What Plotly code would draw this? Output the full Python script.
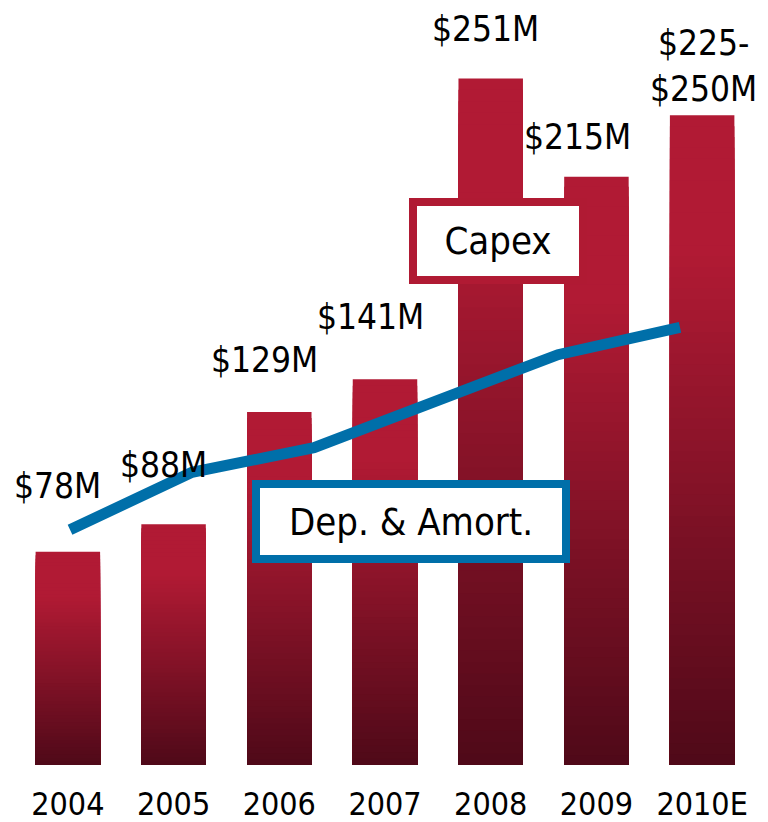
import plotly.graph_objects as go

# ---- data ----
years = ["2004", "2005", "2006", "2007", "2008", "2009", "2010E"]
capex = [78, 88, 129, 141, 251, 215, 237.5]
capex_labels = ["$78M", "$88M", "$129M", "$141M", "$251M", "$215M", "$225-<br>$250M"]
da_years = ["2004", "2005", "2006", "2007", "2008", "2009"]
da_values = [86, 107, 116, 133, 150, 160]

# ---- style ----
FONT = "DejaVu Sans Condensed, DejaVu Sans, sans-serif"
RED = (177, 26, 52)
DARK = (78, 9, 24)
BLUE = "#006FA9"
N = 60
label_dx = [-10, -10, -15, -15, -5, -19, 1]
label_dy = [45, 38, 31, 41, 28, 19, 5]

fig = go.Figure()

# gradient bars via overlaid shrinking bars
for k in range(N):
    s = 1 - k / N
    t = min(1.0, s / 0.8)
    c = tuple(round(DARK[i] + (RED[i] - DARK[i]) * t) for i in range(3))
    fig.add_trace(go.Bar(
        x=years, y=[v * s for v in capex], width=0.61,
        marker=dict(color="rgb(%d,%d,%d)" % c, line=dict(width=0)),
        hoverinfo="skip", showlegend=False, xaxis="x", yaxis="y",
    ))

fig.add_trace(go.Scatter(
    x=list(range(len(da_values))), y=da_values, mode="lines",
    line=dict(color=BLUE, width=11), xaxis="x2", yaxis="y",
    showlegend=False, text=da_years,
))

annotations = []
for i, (v, lab) in enumerate(zip(capex, capex_labels)):
    annotations.append(dict(
        x=i, y=v, xref="x", yref="y", text=lab, showarrow=False,
        xanchor="center", yanchor="bottom", xshift=label_dx[i], yshift=label_dy[i],
        font=dict(family=FONT, size=35, color="black"), align="center", borderpad=0,
    ))

annotations.append(dict(
    x=0.653, y=0.694, xref="paper", yref="paper", text="Capex", showarrow=False,
    xanchor="center", yanchor="middle", width=162, height=70,
    bgcolor="white", bordercolor="#B01A33", borderwidth=8, borderpad=0,
    font=dict(family=FONT, size=38, color="black"),
))
annotations.append(dict(
    x=0.535, y=0.3225, xref="paper", yref="paper", text="Dep. & Amort.", showarrow=False,
    xanchor="center", yanchor="middle", width=302, height=67,
    bgcolor="white", bordercolor=BLUE, borderwidth=8, borderpad=0,
    font=dict(family=FONT, size=38, color="black"),
))

fig.update_layout(
    width=768, height=822,
    margin=dict(l=7, r=21, t=2, b=65),
    paper_bgcolor="white", plot_bgcolor="white",
    barmode="overlay", bargap=0.39,
    xaxis=dict(type="category", range=[-0.5, 6.5], showgrid=False, zeroline=False,
               showline=False, ticks="", ticklabelstandoff=17,
               tickfont=dict(family=FONT, size=32, color="black")),
    xaxis2=dict(overlaying="x", range=[-0.451, 5.615], visible=False),
    yaxis=dict(range=[0, 276], visible=False, showgrid=False, zeroline=False),
    annotations=annotations,
)

fig.write_html("out.html")
